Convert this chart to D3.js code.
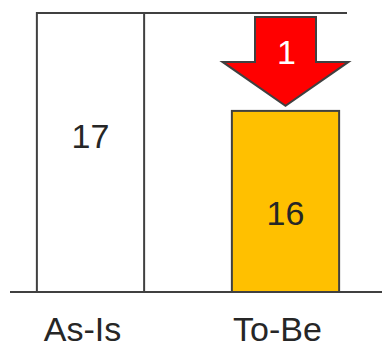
<!DOCTYPE html>
<html>
<head>
<meta charset="utf-8">
<script src="https://cdn.jsdelivr.net/npm/d3@7"></script>
<style>
  html, body { margin: 0; padding: 0; background: #fff; }
  svg { display: block; }
  text { font-family: "Liberation Sans", Arial, sans-serif; fill: #262626; }
</style>
</head>
<body>
<svg id="chart" width="382" height="345"></svg>
<script>
// Scenario totals
const categories = ["As-Is", "To-Be"];
const values = [17, 16];
const barColors = ["#FFFFFF", "#FFC000"];
const yDomain = [14.15, 17];

const W = 382, H = 345;
const svg = d3.select("#chart");

const x = d3.scaleBand()
  .domain(categories)
  .range([-7, 383])
  .paddingInner(0.45)
  .paddingOuter(0.225);

const y = d3.scaleLinear()
  .domain(yDomain)
  .range([292, 13]);

const data = categories.map((c, i) => ({ cat: c, value: values[i], color: barColors[i] }));

// top frame line at the axis maximum
svg.append("line")
  .attr("x1", x(categories[0])).attr("x2", 347)
  .attr("y1", y(yDomain[1])).attr("y2", y(yDomain[1]))
  .attr("stroke", "#404040").attr("stroke-width", 2);

// bars
svg.selectAll("rect.bar")
  .data(data)
  .join("rect")
  .attr("class", "bar")
  .attr("x", d => x(d.cat))
  .attr("width", x.bandwidth())
  .attr("y", d => y(d.value))
  .attr("height", d => y(yDomain[0]) - y(d.value))
  .attr("fill", d => d.color)
  .attr("stroke", "#404040")
  .attr("stroke-width", 2);

// baseline
svg.append("line")
  .attr("x1", 10).attr("x2", W)
  .attr("y1", y(yDomain[0])).attr("y2", y(yDomain[0]))
  .attr("stroke", "#404040").attr("stroke-width", 2);

// value labels inside bars
const labelShift = [-16, 12];
svg.selectAll("text.val")
  .data(data)
  .join("text")
  .attr("class", "val")
  .attr("x", d => x(d.cat) + x.bandwidth() / 2)
  .attr("y", (d, i) => (y(d.value) + y(yDomain[0])) / 2 + labelShift[i])
  .attr("dy", "0.35em")
  .attr("text-anchor", "middle")
  .attr("font-size", 34)
  .text(d => d.value);

// category labels
svg.selectAll("text.cat")
  .data(categories)
  .join("text")
  .attr("class", "cat")
  .attr("x", d => x(d) + x.bandwidth() / 2 - 8)
  .attr("y", 341)
  .attr("text-anchor", "middle")
  .attr("font-size", 34)
  .text(d => d);

// reduction arrow from As-Is level down to To-Be level
const diff = values[0] - values[1];
const cx = x(categories[1]) + x.bandwidth() / 2;
const arrowTop = y(values[0]) + 4;
const arrowTip = y(values[1]) - 5;
const neck = arrowTop + (arrowTip - arrowTop) * 0.505;
const shaftHalf = 30.5, headHalf = 63;
const arrow = d3.path();
arrow.moveTo(cx - shaftHalf, arrowTop);
arrow.lineTo(cx + shaftHalf, arrowTop);
arrow.lineTo(cx + shaftHalf, neck);
arrow.lineTo(cx + headHalf, neck);
arrow.lineTo(cx, arrowTip);
arrow.lineTo(cx - headHalf, neck);
arrow.lineTo(cx - shaftHalf, neck);
arrow.closePath();
svg.append("path")
  .attr("d", arrow.toString())
  .attr("fill", "#FF0000")
  .attr("stroke", "#404040")
  .attr("stroke-width", 2)
  .attr("stroke-linejoin", "miter");

svg.append("text")
  .attr("x", cx + 1)
  .attr("y", (arrowTop + neck) / 2 + 13)
  .attr("dy", "0.35em")
  .attr("text-anchor", "middle")
  .attr("font-size", 34)
  .style("fill", "#FFFFFF")
  .text(diff);
</script>
</body>
</html>
